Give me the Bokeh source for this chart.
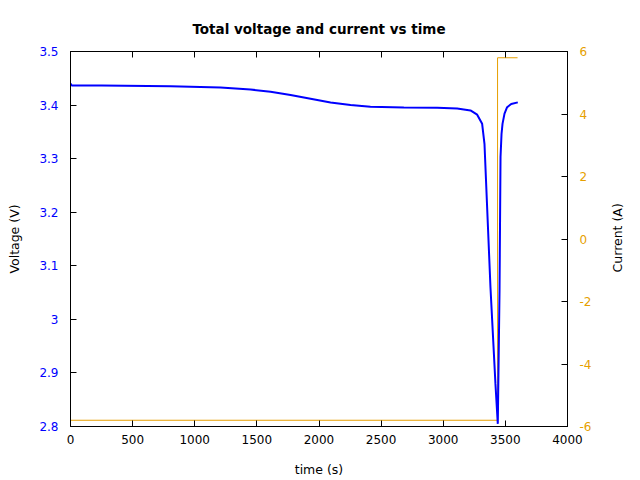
import math
from bokeh.plotting import figure
from bokeh.layouts import row
from bokeh.models import Range1d, LinearAxis, FixedTicker
from bokeh.core.properties import value
from bokeh.embed import file_html
from bokeh.resources import INLINE

time_v = [0, 10, 250, 805, 1207, 1449, 1610, 1771, 1932, 2093, 2254, 2414, 2683, 2951, 3112,
          3219, 3273, 3313, 3332, 3380, 3420, 3439, 3453, 3461, 3469, 3477, 3493, 3514, 3547, 3600]
volt = [3.440, 3.4365, 3.4365, 3.435, 3.433, 3.429, 3.425, 3.419, 3.412, 3.405, 3.400, 3.397,
        3.3955, 3.395, 3.3936, 3.390, 3.382, 3.365, 3.327, 3.06, 2.88, 2.805, 3.054, 3.303,
        3.346, 3.365, 3.384, 3.396, 3.402, 3.405]

time_i = [0, 3437, 3437, 3598]
current = [-5.8, -5.8, 5.8, 5.8]

v_ticks = [2.8, 2.9, 3.0, 3.1, 3.2, 3.3, 3.4, 3.5]
v_labels = ["2.8", "2.9", "3", "3.1", "3.2", "3.3", "3.4", "3.5"]
i_ticks = [-6, -4, -2, 0, 2, 4, 6]
i_labels = ["-6", "-4", "-2", "0", "2", "4", "6"]
t_ticks = [0, 500, 1000, 1500, 2000, 2500, 3000, 3500, 4000]
right_label = "Current (A)"

BLUE = "#0000ff"
ORANGE = "#e69f00"
FONT = "DejaVu Sans"

p = figure(width=610, height=480, output_backend="svg", toolbar_location=None,
           x_range=Range1d(0, 4000), y_range=Range1d(2.8, 3.5),
           min_border_left=70, min_border_right=43, min_border_top=51, min_border_bottom=54,
           title="Total voltage and current vs time")
p.extra_y_ranges = {"cur": Range1d(-6, 6)}
p.grid.visible = False
p.outline_line_color = "black"
p.outline_line_width = 1

p.title.align = "center"
p.title.text_font = FONT
p.title.text_font_size = "13.5px"
p.title.text_font_style = "bold"
p.title.text_color = "black"
p.title.standoff = 30

def style_axis(ax):
    ax.major_tick_in = 6
    ax.major_tick_out = 0
    ax.minor_tick_in = 0
    ax.minor_tick_out = 0
    ax.axis_line_color = "black"
    ax.major_tick_line_color = "black"
    ax.major_label_text_font = FONT
    ax.major_label_text_font_size = "12px"
    ax.major_label_text_color = "black"
    ax.axis_label_text_font = FONT
    ax.axis_label_text_font_size = "12.5px"
    ax.axis_label_text_font_style = "normal"
    ax.axis_label_text_color = "black"

xa = p.xaxis[0]
xa.ticker = FixedTicker(ticks=t_ticks)
xa.axis_label = "time (s)"
style_axis(xa)
xa.major_label_standoff = 8
xa.axis_label_standoff = 15

ya = p.yaxis[0]
ya.ticker = FixedTicker(ticks=v_ticks)
ya.major_label_overrides = {t: l for t, l in zip(v_ticks, v_labels)}
ya.axis_label = "Voltage (V)"
style_axis(ya)
ya.major_label_text_color = BLUE
ya.major_label_standoff = 12
ya.axis_label_standoff = 14

ra = LinearAxis(y_range_name="cur", ticker=FixedTicker(ticks=i_ticks))
ra.major_label_overrides = {t: l for t, l in zip(i_ticks, i_labels)}
style_axis(ra)
ra.major_label_text_color = ORANGE
ra.major_label_standoff = 12
p.add_layout(ra, "right")

ta = LinearAxis(ticker=FixedTicker(ticks=t_ticks))
style_axis(ta)
ta.major_label_overrides = {t: "" for t in t_ticks}
ta.major_label_standoff = 0
p.add_layout(ta, "above")

p.line(time_i, current, y_range_name="cur", line_color=ORANGE, line_width=1)
p.line(time_v, volt, line_color=BLUE, line_width=2)

# narrow side panel carrying the right axis title (reads bottom-to-top)
p2 = figure(width=30, height=480, output_backend="svg", toolbar_location=None,
            x_range=Range1d(0, 30), y_range=Range1d(0, 480),
            min_border=0, x_axis_type=None, y_axis_type=None)
p2.grid.visible = False
p2.outline_line_color = None
p2.text(x=[7], y=[241.5], text=[right_label], angle=math.pi / 2,
        text_align="center", text_baseline="middle",
        text_font=value(FONT), text_font_size="12.5px", text_color="black")

layout = row(p, p2, spacing=0)
open("out.html", "w").write(file_html(layout, INLINE))
